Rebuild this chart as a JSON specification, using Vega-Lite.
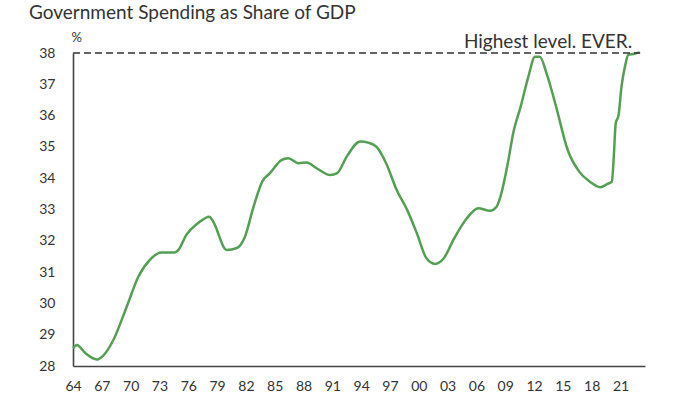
{
  "$schema": "https://vega.github.io/schema/vega-lite/v6.json",
  "width": 572,
  "height": 313,
  "autosize": {"type": "none"},
  "padding": {"left": 73, "top": 53, "right": 55, "bottom": 28},
  "background": "white",
  "config": {
    "font": "Lato",
    "view": {"stroke": null},
    "axis": {"labelOverlap": false, "labelFlush": false}
  },
  "title": {
    "text": "Government Spending as Share of GDP",
    "anchor": "start",
    "frame": "group",
    "fontSize": 19,
    "fontWeight": "normal",
    "color": "#333333",
    "font": "Lato",
    "dx": -44,
    "offset": 0,
    "dy": -8
  },
  "datasets": {
    "series": [
      {"t": 1964.0, "v": 28.57},
      {"t": 1964.4, "v": 28.67},
      {"t": 1965.25, "v": 28.42},
      {"t": 1966.5, "v": 28.21},
      {"t": 1967.2, "v": 28.35},
      {"t": 1968.2, "v": 28.83},
      {"t": 1969.6, "v": 29.9},
      {"t": 1970.8, "v": 30.85},
      {"t": 1972.0, "v": 31.39},
      {"t": 1973.2, "v": 31.63},
      {"t": 1974.6, "v": 31.63},
      {"t": 1975.0, "v": 31.72},
      {"t": 1975.8, "v": 32.19},
      {"t": 1977.0, "v": 32.56},
      {"t": 1978.2, "v": 32.77},
      {"t": 1978.6, "v": 32.61},
      {"t": 1980.0, "v": 31.71},
      {"t": 1981.0, "v": 31.76},
      {"t": 1981.9, "v": 32.13},
      {"t": 1982.8, "v": 33.09},
      {"t": 1983.7, "v": 33.89},
      {"t": 1984.5, "v": 34.16},
      {"t": 1985.7, "v": 34.58},
      {"t": 1986.4, "v": 34.64},
      {"t": 1987.5, "v": 34.48},
      {"t": 1988.3, "v": 34.5},
      {"t": 1989.4, "v": 34.31},
      {"t": 1990.8, "v": 34.1},
      {"t": 1991.5, "v": 34.16},
      {"t": 1992.5, "v": 34.69},
      {"t": 1993.9, "v": 35.17},
      {"t": 1994.8, "v": 35.13},
      {"t": 1995.6, "v": 35.0},
      {"t": 1996.6, "v": 34.48},
      {"t": 1997.7, "v": 33.62},
      {"t": 1998.8, "v": 32.98},
      {"t": 1999.8, "v": 32.24},
      {"t": 2000.8, "v": 31.44},
      {"t": 2001.7, "v": 31.26},
      {"t": 2002.6, "v": 31.44},
      {"t": 2003.6, "v": 32.03},
      {"t": 2005.0, "v": 32.72},
      {"t": 2006.2, "v": 33.04},
      {"t": 2007.4, "v": 32.96},
      {"t": 2008.1, "v": 33.09},
      {"t": 2008.5, "v": 33.41},
      {"t": 2009.2, "v": 34.37},
      {"t": 2009.9, "v": 35.54},
      {"t": 2010.6, "v": 36.28},
      {"t": 2011.4, "v": 37.24},
      {"t": 2012.1, "v": 37.88},
      {"t": 2012.6, "v": 37.88},
      {"t": 2013.3, "v": 37.35},
      {"t": 2014.3, "v": 36.28},
      {"t": 2015.5, "v": 34.9},
      {"t": 2016.7, "v": 34.21},
      {"t": 2017.8, "v": 33.89},
      {"t": 2018.9, "v": 33.71},
      {"t": 2019.6, "v": 33.81},
      {"t": 2020.1, "v": 33.89},
      {"t": 2020.3, "v": 34.69},
      {"t": 2020.5, "v": 35.75},
      {"t": 2020.8, "v": 36.02},
      {"t": 2021.1, "v": 36.92},
      {"t": 2021.5, "v": 37.62},
      {"t": 2021.8, "v": 37.94},
      {"t": 2022.3, "v": 37.97},
      {"t": 2023.0, "v": 38.02}
    ],
    "peak": [
      {"t": 1964.0, "t2": 2023.05, "v": 38, "label": "Highest level. EVER."}
    ]
  },
  "layer": [
    {
      "data": {"name": "series"},
      "mark": {"type": "line", "color": "#559f55", "strokeWidth": 2.5, "interpolate": "monotone", "clip": false},
      "encoding": {
        "x": {
          "field": "t",
          "type": "quantitative",
          "scale": {"domain": [1964, 2023.55], "nice": false, "zero": false},
          "axis": {
            "title": null,
            "values": [1964, 1967, 1970, 1973, 1976, 1979, 1982, 1985, 1988, 1991, 1994, 1997, 2000, 2003, 2006, 2009, 2012, 2015, 2018, 2021],
            "tickCount": 40,
            "labelExpr": "substring(toString(datum.value), 2)",
            "labelOverlap": false,
            "labelFlush": false,
            "grid": false,
            "ticks": false,
            "domainColor": "#444444",
            "domainWidth": 1.6,
            "labelFontSize": 14,
            "labelColor": "#333333",
            "labelPadding": 13,
            "labelFont": "Lato"
          }
        },
        "y": {
          "field": "v",
          "type": "quantitative",
          "scale": {"domain": [28, 38], "nice": false, "zero": false},
          "axis": {
            "title": "%",
            "titleAngle": 0,
            "titleX": -2,
            "titleY": -9,
            "titleAlign": "left",
            "titleBaseline": "bottom",
            "titleFontSize": 13,
            "titleFontWeight": "normal",
            "titleColor": "#333333",
            "titleFont": "Lato",
            "values": [28, 29, 30, 31, 32, 33, 34, 35, 36, 37, 38],
            "tickCount": 20,
            "format": "d",
            "labelOverlap": false,
            "labelFlush": false,
            "grid": false,
            "ticks": false,
            "domainColor": "#444444",
            "domainWidth": 1.6,
            "labelFontSize": 14,
            "labelColor": "#333333",
            "labelPadding": 18,
            "labelFont": "Lato"
          }
        }
      }
    },
    {
      "data": {"name": "peak"},
      "mark": {"type": "rule", "color": "#333333", "strokeWidth": 1.5, "strokeDash": [7, 4]},
      "encoding": {
        "x": {"field": "t", "type": "quantitative"},
        "x2": {"field": "t2"},
        "y": {"field": "v", "type": "quantitative"}
      }
    },
    {
      "data": {"name": "peak"},
      "mark": {"type": "text", "align": "right", "baseline": "alphabetic", "dx": -8, "dy": -5, "fontSize": 19, "color": "#333333", "font": "Lato"},
      "encoding": {
        "x": {"field": "t2", "type": "quantitative"},
        "y": {"field": "v", "type": "quantitative"},
        "text": {"field": "label"}
      }
    }
  ]
}
